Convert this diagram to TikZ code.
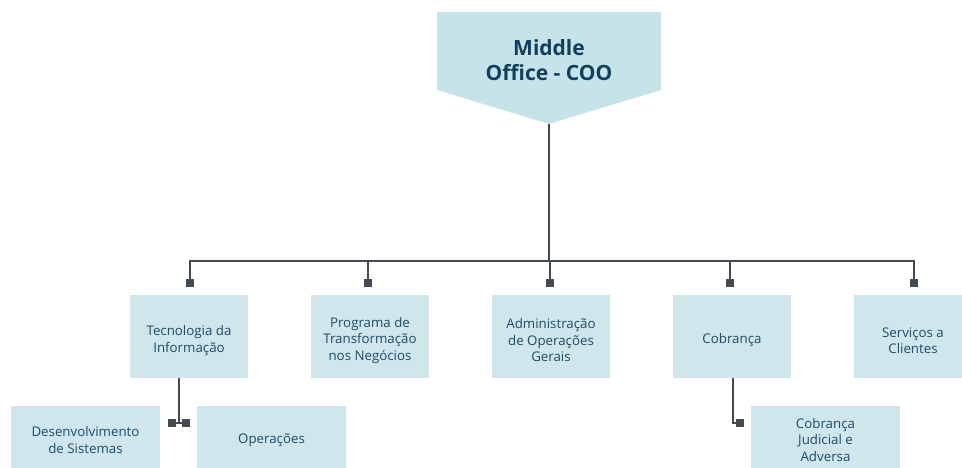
\documentclass[tikz,border=0pt]{standalone}
\usepackage{fontspec}
\setmainfont{Open Sans}
\definecolor{boxfill}{HTML}{CFE6EC}
\definecolor{topfill}{HTML}{C6E3EA}
\definecolor{txt}{HTML}{1F4B68}
\definecolor{ttl}{HTML}{123F5C}
\definecolor{ln}{HTML}{434A52}
\begin{document}
\begin{tikzpicture}[x=1pt,y=-1pt,
  orgbox/.style={fill=boxfill, minimum width=118pt, minimum height=83pt, inner sep=0pt},
  subbox/.style={orgbox, minimum width=149pt, minimum height=62pt},
  boxtext/.style={align=center, text=txt, inner sep=0pt, font=\fontsize{13.3}{16.5}\selectfont},
  marker/.style={fill=ln, minimum size=8pt, inner sep=0pt},
  conn/.style={draw=ln, line width=2pt}]
\useasboundingbox (0,0) rectangle (962,468);
\clip (0,0) rectangle (962,468);
% top node
\fill[topfill] (437,12) -- (661,12) -- (661,90) -- (549,124) -- (437,90) -- cycle;
\node[align=center, text=ttl, font=\fontsize{21}{25}\selectfont\bfseries] (coo) at (549,60) {Middle\\Office - COO};
\coordinate (tip) at (549,124);
% boxes
\node[orgbox] (b1) at (189,336.5) {};
\node[orgbox] (b2) at (370,336.5) {};
\node[orgbox] (b3) at (551,336.5) {};
\node[orgbox] (b4) at (732,336.5) {};
\node[orgbox] (b5) at (913,336.5) {};
\node[subbox] (s1) at (85.5,437) {};
\node[subbox] (s2) at (271.5,437) {};
\node[subbox] (s3) at (825.5,437) {};
\node[boxtext] (t1) at ([yshift=-4pt]b1.center) {Tecnologia da\\Informação};
\node[boxtext] (t2) at ([yshift=-4pt]b2.center) {Programa de\\Transformação\\nos Negócios};
\node[boxtext] (t3) at ([yshift=-4pt]b3.center) {Administração\\de Operações\\Gerais};
\node[boxtext] (t4) at ([yshift=-4pt]b4.center) {Cobrança};
\node[boxtext] (t5) at ([yshift=-4pt]b5.center) {Serviços a\\Clientes};
\node[boxtext] (u1) at ([yshift=-3pt]s1.center) {Desenvolvimento\\de Sistemas};
\node[boxtext] (u2) at ([yshift=-3pt]s2.center) {Operações};
\node[boxtext] (u3) at ([yshift=-3pt]s3.center) {Cobrança\\Judicial e\\Adversa};
% markers
\node[marker] (m1) at (190,283) {};
\node[marker] (m2) at (368,283) {};
\node[marker] (m3) at (550,283) {};
\node[marker] (m4) at (730,283) {};
\node[marker] (m5) at (914,283) {};
\node[marker] (ms1) at (172,423) {};
\node[marker] (ms2) at (186,423) {};
\node[marker] (ms3) at (740,423) {};
% connectors
\coordinate (bus) at (549,261);
\draw[conn] (tip) -- (bus);
\draw[conn] (m1.center) |- (bus) -| (m5.center);
\draw[conn] (m2.center) -- (m2.center |- bus);
\draw[conn] (m3.center) -- (m3.center |- bus);
\draw[conn] (m4.center) -- (m4.center |- bus);
\coordinate (b1out) at (179,378);
\draw[conn] (b1out) -- (179,423) coordinate (j1);
\draw[conn] (ms1.center) -- (ms2.center);
\coordinate (b4out) at (733,378);
\draw[conn] (b4out) |- (ms3.center);
\end{tikzpicture}
\end{document}
